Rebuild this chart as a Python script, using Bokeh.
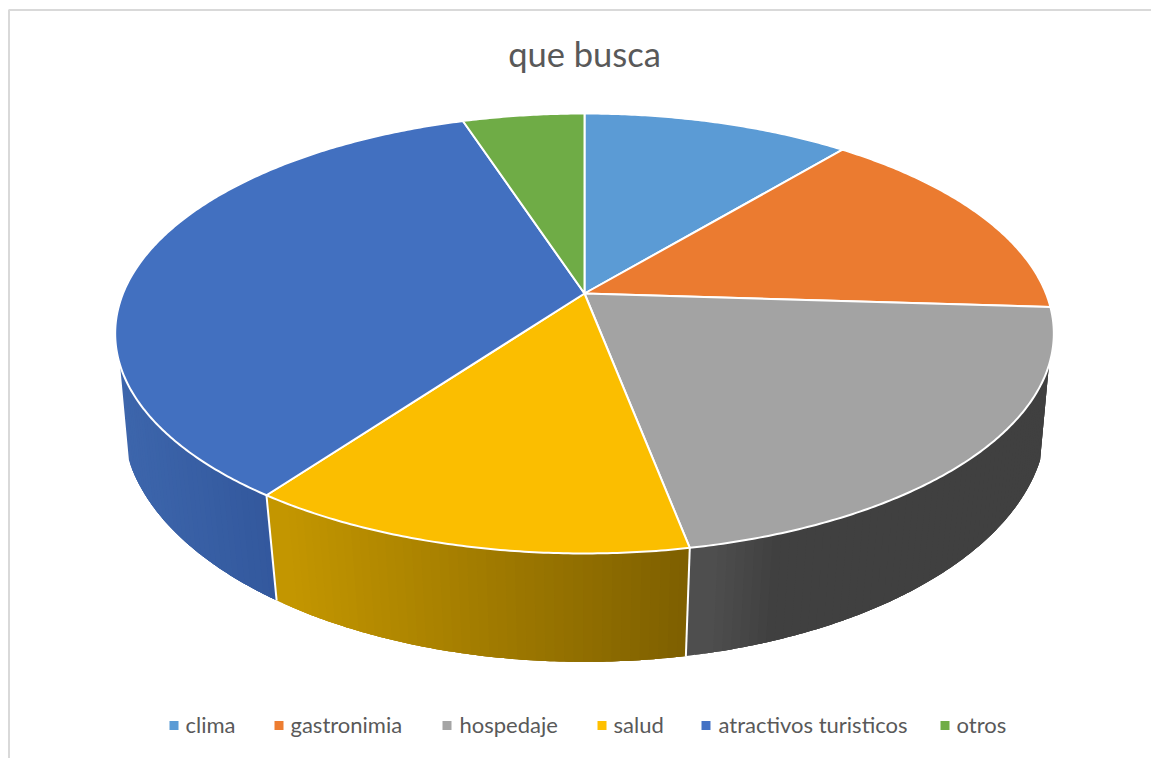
import math
from bokeh.plotting import figure
from bokeh.models import Range1d, ColumnDataSource
from bokeh.core.properties import value
from bokeh.embed import file_html
from bokeh.resources import INLINE

title_text = "que busca"
categories = ["clima", "gastronimia", "hospedaje", "salud", "atractivos turisticos", "otros"]
shares = [11, 15, 21, 13, 35, 5]

colors = ["#5B9BD5", "#ED7D31", "#A5A5A5", "#FFC000", "#4472C4", "#70AD47"]
top_colors = ["#5B9BD5", "#EB7B30", "#A3A3A3", "#FBBE00", "#4270C0", "#6FAC46"]
wall_left = {2: (0x52, 0x52, 0x52), 3: (0xC6, 0x98, 0x00), 4: (0x3D, 0x66, 0xAC)}
wall_right = {2: (0x40, 0x40, 0x40), 3: (0x7C, 0x5E, 0x00), 4: (0x32, 0x57, 0x9C)}
wall_ramp = {2: 0.22, 3: 1.0, 4: 1.0}

legend_swatch_x = [169, 274, 442, 597, 701, 940]
legend_text_x = [185, 290, 459, 613, 718, 956]

CX = 584
TOP = dict(y0=293, A=461.5, B=212.7, k=0.1818)
BOTTOM = dict(y0=381, A=456.0, B=235.5, k=0.16)
WALL_FROM, WALL_TO = 108.5, 251.5


def project(deg, plane):
    u, v = math.sin(math.radians(deg)), math.cos(math.radians(deg))
    w = 1 + plane["k"] * v
    return CX + plane["A"] * u / w, plane["y0"] - plane["B"] * v / w


def frange(a, b, step=1.0):
    n = max(1, int(math.ceil((b - a) / step)))
    return [a + (b - a) * i / n for i in range(n + 1)]


total = sum(shares)
edges = [0.0]
for s in shares:
    edges.append(edges[-1] + 360.0 * s / total)

p = figure(width=1151, height=758, output_backend="svg", toolbar_location=None,
           x_range=Range1d(0, 1151), y_range=Range1d(758, 0),
           min_border=0, min_border_left=0, min_border_right=0, min_border_top=0, min_border_bottom=0)
p.axis.visible = False
p.grid.visible = False
p.outline_line_color = None
p.background_fill_color = "white"
p.border_fill_color = "white"

# chart frame (top and left edges)
p.line([8.5, 8.5, 1151], [758, 9.6, 9.6], line_color="#D9D9D9", line_width=2)

# side wall: each strip overlaps the one painted before it, so no seams show
wx, wy, wc = [], [], []
for i in range(len(shares)):
    a, b = max(edges[i], WALL_FROM), min(edges[i + 1], WALL_TO)
    if a >= b:
        continue
    angs = frange(a, b, 1.0)
    xs = [project(t, TOP)[0] for t in angs] + [project(t, BOTTOM)[0] for t in angs]
    xl, xr = min(xs), max(xs)
    for j in range(len(angs) - 1):
        t0, t1 = angs[max(0, j - 2)], angs[j + 1]
        p0, p1 = project(t0, TOP), project(t1, TOP)
        q0, q1 = project(t0, BOTTOM), project(t1, BOTTOM)
        xm = (p0[0] + p1[0] + q0[0] + q1[0]) / 4
        f = min(1.0, (xm - xl) / (xr - xl) / wall_ramp[i])
        c = [int(round(l + (r - l) * f)) for l, r in zip(wall_left[i], wall_right[i])]
        strip_t = frange(t0, t1, 0.5)
        top_pts = [project(t, TOP) for t in strip_t]
        bot_pts = [project(t, BOTTOM) for t in reversed(strip_t)]
        wx.append([q[0] for q in top_pts + bot_pts])
        wy.append([q[1] for q in top_pts + bot_pts])
        wc.append("#%02X%02X%02X" % tuple(c))
p.patches("x", "y", source=ColumnDataSource(dict(x=wx, y=wy, c=wc)),
          fill_color="c", line_color=None)

# white seams between wall segments
for i in range(1, len(shares)):
    t = edges[i]
    if WALL_FROM < t < WALL_TO:
        a, b = project(t, TOP), project(t, BOTTOM)
        p.line([a[0], b[0]], [a[1], b[1]], line_color="white", line_width=2)

# top face
sx, sy = [], []
for i in range(len(shares)):
    angs = frange(edges[i], edges[i + 1], 0.5)
    pts = [project(t, TOP) for t in angs]
    c = project(0, dict(TOP, A=0.0, B=0.0))
    sx.append([c[0]] + [q[0] for q in pts])
    sy.append([c[1]] + [q[1] for q in pts])
p.patches("x", "y", source=ColumnDataSource(dict(x=sx, y=sy, c=top_colors)),
          fill_color="c", line_color="white", line_width=2, line_join="round")

# title
p.text(x=[584], y=[53], text=[title_text], text_align="center", text_baseline="middle",
       text_font=value("Lato"), text_font_size="34.5px", text_color="#595959")

# legend
p.square(x=[v + 4.5 for v in legend_swatch_x], y=[725] * 6, size=9, fill_color=colors, line_color=None)
p.text(x=legend_text_x, y=[723.5] * 6, text=categories, text_align="left", text_baseline="middle",
       text_font=value("Lato"), text_font_size="22px", text_color="#595959")

open("out.html", "w").write(file_html(p, INLINE))
